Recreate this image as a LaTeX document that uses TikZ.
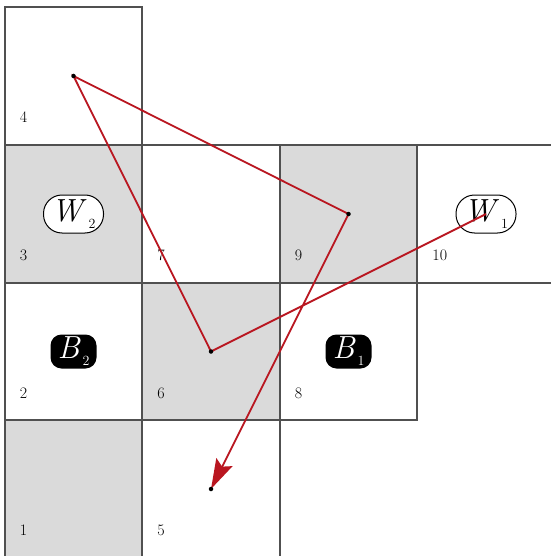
\documentclass[tikz,border=0pt]{standalone}
\usepackage{fontspec}
\usetikzlibrary{arrows.meta}
\definecolor{gridc}{RGB}{80,80,80}
\definecolor{cellg}{RGB}{218,218,218}
\definecolor{pathred}{RGB}{185,22,32}
\newcommand{\piecelabel}[2]{\textit{#1}\kern2pt\raisebox{-7pt}{\fontsize{14}{14}\selectfont #2}}
\begin{document}
\begin{tikzpicture}[x=1pt,y=-1pt,
  cell/.style={draw=gridc, line width=1.8pt, minimum width=137.5pt, minimum height=137.7pt, inner sep=0pt, outer sep=0pt, fill=white},
  graycell/.style={cell, fill=cellg},
  numlabel/.style={anchor=base west, inner sep=0pt, font=\fontsize{16}{18}\selectfont},
  wpiece/.style={draw=black, line width=1pt, rounded corners=18.5pt, minimum width=60pt, minimum height=38pt, inner sep=2pt, font=\fontsize{32}{36}\selectfont, fill=white},
  bpiece/.style={fill=black, text=white, rounded corners=11pt, minimum width=46pt, minimum height=34pt, inner sep=2pt, font=\fontsize{32}{36}\selectfont},
  vdot/.style={circle, fill=black, inner sep=0pt, minimum size=4.5pt},
  moveline/.style={draw=pathred, line width=1.8pt}
]
\useasboundingbox (0,0) rectangle (550,556);
% cells
\node[cell]     (c4)  at (73.5,76)  {};
\node[graycell] (c3)  at (73.5,214) {};
\node[cell]     (c7)  at (211,214)  {};
\node[graycell] (c9)  at (348.5,214) {};
\node[cell]     (c10) at (486,214)  {};
\node[cell]     (c2)  at (73.5,351.5) {};
\node[graycell] (c6)  at (211,351.5) {};
\node[cell]     (c8)  at (348.5,351.5) {};
\node[graycell] (c1)  at (73.5,489) {};
\node[cell]     (c5)  at (211,489)  {};
% labels
\foreach \c/\t in {c4/4,c3/3,c7/7,c9/9,c10/10,c2/2,c6/6,c8/8,c1/1,c5/5}
  \node[numlabel] (l\c) at ([xshift=15pt,yshift=22pt]\c.south west) {\t};
% pieces
\node[wpiece] (w2) at (c3.center) {\piecelabel{W}{2}};
\node[wpiece] (w1) at (c10.center) {\piecelabel{W}{1}};
\node[bpiece] (b2) at (c2.center) {\piecelabel{B}{2}};
\node[bpiece] (b1) at (c8.center) {\piecelabel{B}{1}};
% move path
\draw[moveline, -{Stealth[length=30pt,width=18pt,inset=5pt]}]
  (c10.center) -- (c6.center) -- (c4.center) -- (c9.center) -- (c5.center);
\node[vdot] (d6) at (c6.center) {};
\node[vdot] (d4) at (c4.center) {};
\node[vdot] (d9) at (c9.center) {};
\node[vdot] (d5) at (c5.center) {};
\end{tikzpicture}
\end{document}
